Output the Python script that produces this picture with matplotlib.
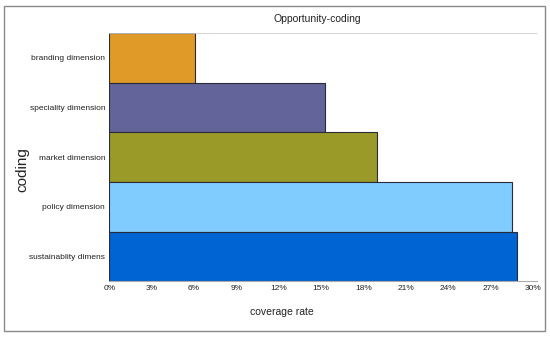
import matplotlib
matplotlib.use("Agg")
import matplotlib.pyplot as plt
from matplotlib.patches import Rectangle

plt.rcParams["font.family"] = ["Liberation Sans", "DejaVu Sans"]

categories = ["branding dimension", "speciality dimension", "market dimension",
              "policy dimension", "sustainablity dimens"]
values = [6.1, 15.3, 19.0, 28.5, 28.9]
colors = ["#E09A28", "#63659A", "#9A9A28", "#80CCFF", "#0064D2"]
xticks = [0, 3, 6, 9, 12, 15, 18, 21, 24, 27, 30]
xticklabels = [f"{t}%" for t in xticks]

fig = plt.figure(figsize=(5.5, 3.37), dpi=100)
fig.patches.append(Rectangle((3.5/550, 1-331/337), 541.5/550, 325.5/337,
                             transform=fig.transFigure, fill=False,
                             edgecolor="#8a8a8a", linewidth=1.0))
ax = fig.add_axes([109.3/550, 1-281.3/337, (537-109.3)/550, (281.3-33)/337])

n = len(categories)
ypos = list(range(n - 1, -1, -1))
ax.barh(ypos, values, height=1.0, color=colors, edgecolor="#2a2a3a", linewidth=0.8)
ax.set_ylim(-0.5, n - 0.5)
ax.set_xlim(0, 30.3)
ax.set_yticks(ypos)
ax.set_yticklabels(categories, fontsize=6, color="#222222")
ax.set_xticks(xticks)
ax.set_xticklabels(xticklabels, fontsize=6, color="#222222")
ax.tick_params(axis="both", length=0, pad=3)

for s in ["right", "left"]:
    ax.spines[s].set_visible(False)
ax.spines["top"].set_linestyle((0, (1, 1)))
ax.spines["top"].set_color("#cccccc")
ax.spines["top"].set_linewidth(0.6)
ax.spines["bottom"].set_color("#aaaaaa")
ax.spines["bottom"].set_linewidth(0.8)

fig.text(317/550, 1-19/337, "Opportunity-coding", ha="center", va="center",
         fontsize=7.5, color="#222222")
fig.text(22/550, 1-170/337, "coding", ha="center", va="center", rotation=90,
         fontsize=11, color="#222222")
fig.text(282/550, 1-312/337, "coverage rate", ha="center", va="center",
         fontsize=7.5, color="#222222")

fig.savefig("out.png", dpi=100)
